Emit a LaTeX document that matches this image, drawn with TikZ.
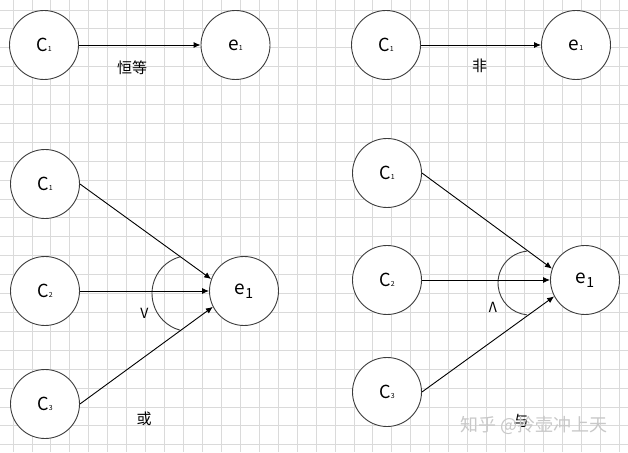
\documentclass[tikz,border=0pt]{standalone}
\usepackage{fontspec}
\setmainfont{Noto Sans CJK SC}
\usetikzlibrary{arrows.meta}
\tikzset{
  gridline/.style={draw={rgb,255:red,218;green,218;blue,218}, line width=0.8pt},
  circ/.style={circle, draw={rgb,255:red,60;green,60;blue,60}, line width=0.9pt, minimum size=69pt, inner sep=0pt, fill=white},
  conn/.style={draw=black, line width=0.9pt, -{Latex[length=7pt,width=6pt]}},
  arcline/.style={draw={rgb,255:red,60;green,60;blue,60}, line width=0.9pt},
  lbl/.style={font=\fontsize{15}{15}\selectfont, inner sep=0pt},
  wm/.style={font=\fontsize{18}{18}\selectfont, text={rgb,255:red,200;green,200;blue,200}, inner sep=0pt}
}
\newcommand{\Csub}[1]{{\fontsize{18}{18}\selectfont C}{\fontsize{7}{7}\selectfont #1}}
\newcommand{\Esmall}{{\fontsize{19}{19}\selectfont e}{\fontsize{7}{7}\selectfont 1}}
\newcommand{\Ebig}{{\fontsize{19}{19}\selectfont e}\raisebox{-4pt}{\fontsize{14}{14}\selectfont 1}}
\begin{document}
\begin{tikzpicture}[x=1pt,y=1pt]
\useasboundingbox (0,0) rectangle (628,452);
\fill[white] (0,0) rectangle (628,452);
\foreach \i in {0,...,32} \draw[gridline] ({13+18.94*\i},0) -- ({13+18.94*\i},452);
\foreach \j in {0,...,23} \draw[gridline] (0,{442-18.9*\j}) -- (628,{442-18.9*\j});

% top-left: identity
\node[circ] (a1) at (44,407) {\Csub{1}};
\node[circ] (ae) at (235.5,407) {\Esmall};
\draw[conn] (a1.east) -- (ae.west);
\node[lbl] (alab) at (132,384.5) {恒等};

% top-right: not
\node[circ] (b1) at (386,407) {\Csub{1}};
\node[circ] (be) at (576,407) {\Esmall};
\draw[conn] (b1.east) -- (be.west);
\node[lbl] (blab) at (479.5,386) {非};

% bottom-left: or
\node[circ] (c1) at (45,268) {\Csub{1}};
\node[circ] (c2) at (45,161) {\Csub{2}};
\node[circ] (c3) at (45,48) {\Csub{3}};
\node[circ] (ce) at (244,161) {\Ebig};
\draw[arcline] ([shift={(105.2:38)}]190,158.5) arc[start angle=105.2, end angle=254.8, radius=38];
\draw[conn] (c1.east) -- (ce.160);
\draw[conn] (c2.east) -- (ce.west);
\draw[conn] (c3.east) -- (ce.207);
\node[lbl, font=\fontsize{14}{14}\selectfont] (cv) at (144.5,139) {V};
\node[lbl] (clab) at (144,33) {或};

% bottom-right: and
\node[circ] (d1) at (387,279) {\Csub{1}};
\node[circ] (d2) at (387,172) {\Csub{2}};
\node[circ] (d3) at (387,60) {\Csub{3}};
\node[circ] (de) at (585,172) {\Ebig};
\draw[arcline] ([shift={(95.4:32)}]530,169) arc[start angle=95.4, end angle=264.6, radius=32];
\draw[conn] (d1.east) -- (de.161);
\draw[conn] (d2.east) -- (de.west);
\draw[conn] (d3.east) -- (de.208);
\node[lbl, font=\fontsize{14}{14}\selectfont] (dv) at (493,144.5) {Λ};
\node[lbl] (dlab) at (521,31) {与};

% watermark
\node[wm, anchor=west] (wmk) at (460,27) {知乎 @拎壶冲上天};
\end{tikzpicture}
\end{document}
